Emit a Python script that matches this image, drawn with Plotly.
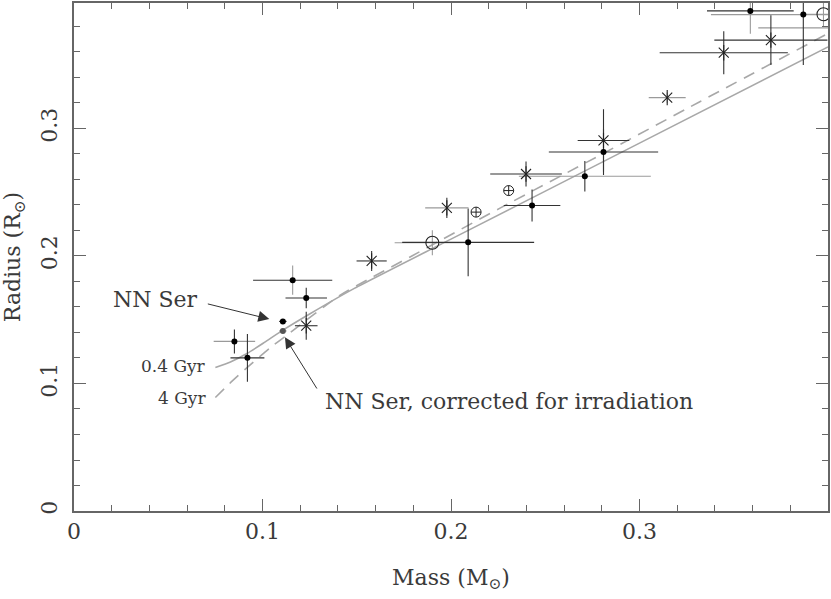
import plotly.graph_objects as go

# ---------------- data ----------------
# filled dots (black)
dot_mass = [0.0851, 0.0920, 0.1232, 0.1160, 0.2091, 0.2430, 0.2710, 0.2809, 0.3588, 0.3869]
dot_radius = [0.1330, 0.1201, 0.1670, 0.1810, 0.2107, 0.2396, 0.2625, 0.2815, 0.3922, 0.3893]
dot_mass_err = [0.011, 0.009, 0.011, 0.021, 0.035, 0.015, 0.035, 0.029, 0.023, 0.049]
dot_radius_err = [0.0094, 0.0188, 0.008, 0.0115, 0.0266, 0.0125, 0.012, 0.018, 0.018, 0.0395]

# asterisks
ast_mass = [0.1232, 0.1579, 0.1978, 0.2398, 0.2809, 0.3147, 0.3447, 0.3697]
ast_radius = [0.1453, 0.1961, 0.2377, 0.2643, 0.2906, 0.3242, 0.3594, 0.3693]
ast_mass_err = [0.006, 0.008, 0.0115, 0.019, 0.0137, 0.0098, 0.034, 0.030]
ast_radius_err = [0.011, 0.0078, 0.008, 0.0098, 0.0245, 0.004, 0.0168, 0.0195]

# large open circles
circ_mass = [0.1901, 0.3976, 0.4100]
circ_radius = [0.2104, 0.3896, 0.3789]
circ_mass_err = [0.020, 0.010, 0.047]
circ_radius_err = [0.0098, 0.010, 0.0]

# small circled-plus symbols (no error bars)
cplus_mass = [0.2133, 0.2306]
cplus_radius = [0.2344, 0.2513]

# NN Ser
nnser_mass = [0.1108]
nnser_radius = [0.1487]
nnser_mass_err = [0.002]
nnser_corr_mass = [0.1108]
nnser_corr_radius = [0.1412]
nnser_corr_mass_err = [0.002]

# model isochrones
iso04_mass = [0.075, 0.083, 0.092, 0.101, 0.111, 0.125, 0.148, 0.200, 0.300, 0.400]
iso04_radius = [0.1125, 0.1169, 0.1237, 0.1322, 0.1420, 0.1545, 0.1740, 0.2132, 0.2885, 0.3640]
iso4_mass = [0.075, 0.084, 0.093, 0.104, 0.113, 0.141, 0.183, 0.226, 0.279, 0.332, 0.400]
iso4_radius = [0.089, 0.102, 0.114, 0.128, 0.138, 0.169, 0.203, 0.2375, 0.279, 0.321, 0.3745]

x_ticks = [0, 0.1, 0.2, 0.3]
x_tick_labels = ["0", "0.1", "0.2", "0.3"]
y_ticks = [0, 0.1, 0.2, 0.3]
y_tick_labels = ["0", "0.1", "0.2", "0.3"]

# ---------------- styles ----------------
DARK = "#333333"
GRAY = "#9a9a9a"
LINE = "#a8a8a8"
AX = "#666666"
FONT = "DejaVu Serif"

dot_xcol = [GRAY, DARK, DARK, DARK, DARK, DARK, GRAY, DARK, DARK, GRAY]
dot_ycol = [DARK, DARK, DARK, GRAY, DARK, DARK, DARK, DARK, GRAY, DARK]
ast_xcol = [DARK, DARK, GRAY, DARK, DARK, GRAY, DARK, DARK]
ast_ycol = [DARK, DARK, DARK, DARK, DARK, GRAY, DARK, DARK]
circ_col = [GRAY, GRAY, GRAY]

fig = go.Figure()

# model curves
fig.add_trace(go.Scatter(x=iso04_mass, y=iso04_radius, mode="lines",
                         line=dict(color=LINE, width=1.6, shape="spline", smoothing=0.5),
                         hoverinfo="skip", showlegend=False))
fig.add_trace(go.Scatter(x=iso4_mass, y=iso4_radius, mode="lines",
                         line=dict(color=LINE, width=1.6, dash="12px,8px", shape="spline", smoothing=0.6),
                         hoverinfo="skip", showlegend=False))


def err_bars(xs, ys, xe, ye, xcols, ycols):
    for i in range(len(xs)):
        if xe[i] > 0:
            fig.add_trace(go.Scatter(
                x=[xs[i]], y=[ys[i]], mode="markers", marker=dict(size=1, opacity=0),
                error_x=dict(type="data", array=[xe[i]], color=xcols[i], thickness=1.1, width=0),
                hoverinfo="skip", showlegend=False))
        if ye[i] > 0:
            fig.add_trace(go.Scatter(
                x=[xs[i]], y=[ys[i]], mode="markers", marker=dict(size=1, opacity=0),
                error_y=dict(type="data", array=[ye[i]], color=ycols[i], thickness=1.1, width=0),
                hoverinfo="skip", showlegend=False))


err_bars(circ_mass, circ_radius, circ_mass_err, circ_radius_err, circ_col, circ_col)
err_bars(dot_mass, dot_radius, dot_mass_err, dot_radius_err, dot_xcol, dot_ycol)
err_bars(ast_mass, ast_radius, ast_mass_err, ast_radius_err, ast_xcol, ast_ycol)
err_bars(nnser_mass, nnser_radius, nnser_mass_err, [0], [DARK], [DARK])
err_bars(nnser_corr_mass, nnser_corr_radius, nnser_corr_mass_err, [0], [GRAY], [GRAY])

# markers
fig.add_trace(go.Scatter(x=circ_mass, y=circ_radius, mode="markers",
                         marker=dict(symbol="circle-open", size=13, color="#222", line=dict(width=1.1)),
                         hoverinfo="skip", showlegend=False))
fig.add_trace(go.Scatter(x=cplus_mass, y=cplus_radius, mode="markers",
                         marker=dict(symbol="circle-cross-open", size=10, color="#222", line=dict(width=1)),
                         hoverinfo="skip", showlegend=False))
fig.add_trace(go.Scatter(x=ast_mass, y=ast_radius, mode="markers",
                         marker=dict(symbol="x-thin-open", size=10, color="#222", line=dict(width=1.1)),
                         hoverinfo="skip", showlegend=False))
fig.add_trace(go.Scatter(x=ast_mass, y=ast_radius, mode="markers",
                         marker=dict(symbol="line-ns-open", size=11, color="#222", line=dict(width=1.1)),
                         hoverinfo="skip", showlegend=False))
fig.add_trace(go.Scatter(x=dot_mass + nnser_mass, y=dot_radius + nnser_radius, mode="markers",
                         marker=dict(symbol="circle", size=6, color="#000"),
                         hoverinfo="skip", showlegend=False))
fig.add_trace(go.Scatter(x=nnser_corr_mass, y=nnser_corr_radius, mode="markers",
                         marker=dict(symbol="circle", size=6, color="#555"),
                         hoverinfo="skip", showlegend=False))

txt = dict(family=FONT, size=22, color="#3a3a3a")
annotations = [
    dict(x=0.0669, y=0.166, text="NN Ser", showarrow=False, xanchor="right", yanchor="middle", font=txt),
    dict(x=0.1036, y=0.1505, ax=0.0702, ay=0.1627, axref="x", ayref="y", text=" ", showarrow=True,
         arrowhead=2, arrowsize=2.2, arrowwidth=1, arrowcolor="#333", font=dict(size=1)),
    dict(x=0.132, y=0.0862, text="NN Ser, corrected for irradiation", showarrow=False,
         xanchor="left", yanchor="middle", font=txt),
    dict(x=0.1119, y=0.1362, ax=0.1295, ay=0.0945, axref="x", ayref="y", text=" ", showarrow=True,
         arrowhead=2, arrowsize=2.2, arrowwidth=1, arrowcolor="#333", font=dict(size=1)),
    dict(x=0.0712, y=0.1135, text="0.4 Gyr", showarrow=False, xanchor="right", yanchor="middle",
         font=dict(family=FONT, size=17, color="#3a3a3a")),
    dict(x=0.0712, y=0.0885, text="4 Gyr", showarrow=False, xanchor="right", yanchor="middle",
         font=dict(family=FONT, size=17, color="#3a3a3a")),
]

axis_common = dict(showline=True, linecolor=AX, linewidth=1.5, mirror="ticks", ticks="inside",
                   ticklen=12, tickcolor=AX, tickwidth=1.2, showgrid=False, zeroline=False,
                   tickfont=dict(family=FONT, size=22, color="#3a3a3a"))

fig.update_layout(
    width=831, height=599,
    margin=dict(l=74, r=1, t=1, b=88),
    paper_bgcolor="white", plot_bgcolor="white",
    showlegend=False,
    annotations=annotations,
    xaxis=dict(range=[0, 0.4], tickvals=x_ticks, ticktext=x_tick_labels,
               minor=dict(dtick=0.02, ticks="inside", ticklen=6, tickcolor=AX, tickwidth=1.2, showgrid=False),
               title=dict(text="Mass (M<sub>⊙</sub>)", font=dict(family=FONT, size=22, color="#3a3a3a"), standoff=26),
               **axis_common),
    yaxis=dict(range=[0, 0.3984], tickvals=y_ticks, ticktext=y_tick_labels, tickangle=-90,
               ticklabelstandoff=6,
               minor=dict(dtick=0.02, ticks="inside", ticklen=6, tickcolor=AX, tickwidth=1.2, showgrid=False),
               title=dict(text="Radius (R<sub>⊙</sub>)", font=dict(family=FONT, size=22, color="#3a3a3a"), standoff=12),
               **axis_common),
)

fig.write_html("out.html", config={"displayModeBar": False},
               post_script="document.body.style.margin='0';document.body.style.padding='0';"
                           "document.body.style.overflow='hidden';")
